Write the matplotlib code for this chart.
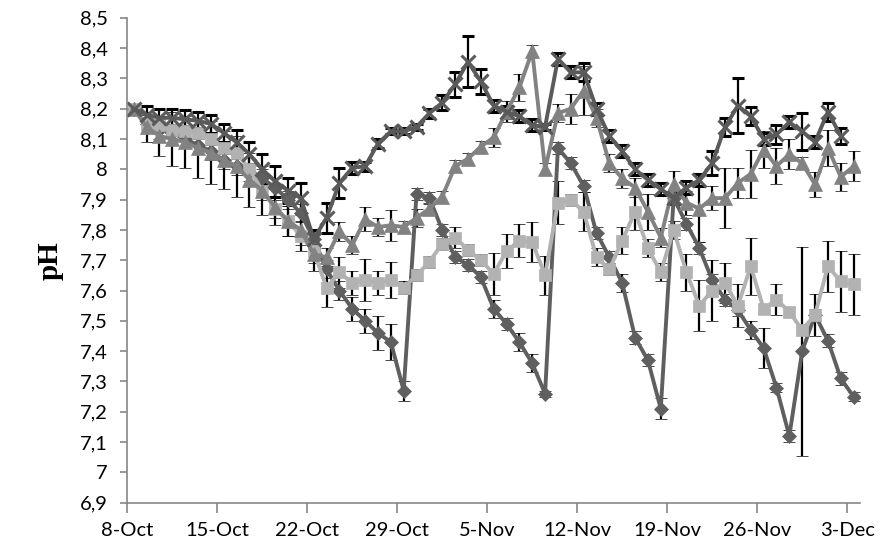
import datetime as dt
import numpy as np
import matplotlib
matplotlib.use("Agg")
import matplotlib.pyplot as plt
import matplotlib.dates as mdates
from matplotlib.ticker import FuncFormatter, MultipleLocator

# daily pH readings, 8 Oct - 3 Dec
start_date = dt.datetime(2012, 10, 8)
n_days = 57

ph_diamond = [8.20, 8.15, 8.13, 8.12, 8.10, 8.08, 8.06, 8.03, 8.01, 7.99,
              7.97, 7.94, 7.90, 7.855, 7.77, 7.67, 7.60, 7.54, 7.50, 7.46,
              7.43, 7.27, 7.92, 7.905, 7.80, 7.71, 7.685, 7.645, 7.54, 7.49,
              7.43, 7.36, 7.26, 8.07, 8.02, 7.945, 7.79, 7.71, 7.625, 7.445,
              7.37, 7.21, 7.905, 7.82, 7.74, 7.635, 7.57, 7.535, 7.47, 7.41,
              7.28, 7.12, 7.40, 7.52, 7.435, 7.31, 7.25]
err_diamond = [0, 0.03, 0.03, 0.03, 0.03, 0.03, 0.03, 0.03, 0.03, 0.03,
               0.03, 0.03, 0.03, 0.03, 0.03, 0.03, 0.03, 0.04, 0.04, 0.055,
               0.058, 0.033, 0.02, 0.02, 0.02, 0.02, 0.02, 0.02, 0.03, 0.02,
               0.03, 0.03, 0.01, 0.02, 0.02, 0.02, 0.02, 0.02, 0.03, 0.02,
               0.02, 0.035, 0.02, 0.02, 0.02, 0.02, 0.02, 0.02, 0.03, 0.065,
               0.015, 0.02, 0.345, 0.02, 0.02, 0.02, 0.015]

ph_square = [8.20, 8.15, 8.145, 8.13, 8.125, 8.12, 8.10, 8.07, 8.055, 8.00,
             7.93, 7.87, 7.83, 7.78, 7.73, 7.61, 7.66, 7.625, 7.635, 7.625,
             7.635, 7.61, 7.65, 7.695, 7.755, 7.775, 7.735, 7.70, 7.655, 7.73,
             7.765, 7.76, 7.65, 7.89, 7.90, 7.86, 7.71, 7.67, 7.765, 7.86,
             7.74, 7.66, 7.80, 7.66, 7.55, 7.60, 7.625, 7.55, 7.68, 7.54,
             7.57, 7.53, 7.47, 7.52, 7.68, 7.63, 7.62]
err_square = [0, 0.02, 0.02, 0.02, 0.02, 0.02, 0.02, 0.02, 0.02, 0.02,
              0.03, 0.03, 0.05, 0.05, 0.065, 0.065, 0.05, 0.04, 0.07, 0.04,
              0.06, 0.02, 0.02, 0.02, 0.02, 0.035, 0.02, 0.02, 0.07, 0.055,
              0.055, 0.065, 0.065, 0.07, 0.02, 0.065, 0.03, 0.02, 0.045, 0.06,
              0.03, 0.03, 0.03, 0.06, 0.085, 0.10, 0.065, 0.07, 0.095, 0.015,
              0.05, 0.015, 0.01, 0.07, 0.085, 0.10, 0.10]

ph_triangle = [8.20, 8.14, 8.11, 8.10, 8.09, 8.07, 8.055, 8.03, 8.01, 7.965,
               7.93, 7.875, 7.83, 7.80, 7.72, 7.71, 7.795, 7.75, 7.835, 7.81,
               7.815, 7.81, 7.84, 7.87, 7.91, 8.01, 8.035, 8.075, 8.105, 8.19,
               8.27, 8.39, 8.00, 8.185, 8.20, 8.26, 8.17, 8.02, 7.97, 7.94,
               7.86, 7.775, 7.95, 7.89, 7.87, 7.905, 7.905, 7.955, 7.985, 8.065,
               8.01, 8.05, 8.02, 7.95, 8.07, 7.975, 8.01]
err_triangle = [0, 0.05, 0.065, 0.09, 0.085, 0.10, 0.105, 0.095, 0.10, 0.09,
                0.08, 0.06, 0.05, 0.05, 0.03, 0.03, 0.03, 0.03, 0.04, 0.03,
                0.05, 0.02, 0.03, 0.02, 0.02, 0.02, 0.02, 0.02, 0.03, 0.035,
                0.045, 0.02, 0.02, 0.03, 0.05, 0.08, 0.03, 0.03, 0.03, 0.03,
                0.06, 0.03, 0.045, 0.04, 0.11, 0.04, 0.10, 0.05, 0.08, 0.06,
                0.06, 0.05, 0.02, 0.04, 0.06, 0.045, 0.05]

ph_cross = [8.20, 8.18, 8.17, 8.17, 8.165, 8.16, 8.15, 8.12, 8.09, 8.05,
            8.00, 7.96, 7.93, 7.905, 7.77, 7.84, 7.955, 8.005, 8.01, 8.085,
            8.125, 8.125, 8.14, 8.185, 8.22, 8.28, 8.355, 8.29, 8.21, 8.19,
            8.175, 8.145, 8.14, 8.365, 8.32, 8.32, 8.20, 8.11, 8.06, 8.00,
            7.965, 7.935, 7.905, 7.94, 7.965, 8.02, 8.14, 8.21, 8.175, 8.10,
            8.115, 8.155, 8.125, 8.09, 8.19, 8.11, np.nan]
err_cross = [0, 0.03, 0.03, 0.03, 0.03, 0.03, 0.03, 0.03, 0.04, 0.04,
             0.05, 0.05, 0.04, 0.05, 0.03, 0.05, 0.05, 0.02, 0.015, 0.015,
             0.01, 0.01, 0.01, 0.015, 0.025, 0.04, 0.085, 0.04, 0.02, 0.02,
             0.02, 0.02, 0.01, 0.02, 0.02, 0.03, 0.02, 0.02, 0.02, 0.02,
             0.02, 0.02, 0.02, 0.02, 0.02, 0.04, 0.03, 0.09, 0.03, 0.02,
             0.03, 0.02, 0.06, 0.02, 0.03, 0.025, np.nan]

# each reading sits in the middle of its day
dates = [start_date + dt.timedelta(days=i, hours=12) for i in range(n_days)]
x = mdates.date2num(dates)

series = [
    (ph_diamond, err_diamond, "D", 7.5, "#5f5f5f"),
    (ph_square, err_square, "s", 8, "#b2b2b2"),
    (ph_triangle, err_triangle, "^", 10, "#828282"),
    (ph_cross, err_cross, "x", 10, "#5a5a5a"),
]

fig = plt.figure(figsize=(8.87, 5.54), dpi=100)
ax = fig.add_axes([0.1435, 0.0926, 0.8261, 0.8753])

for values, errors, marker, size, color in series:
    ax.errorbar(x, values, yerr=errors, color=color, lw=2.8,
                marker=marker, markersize=size, markeredgewidth=2.2 if marker == "x" else 0.5,
                markeredgecolor=color, ecolor="black", elinewidth=1.6,
                capsize=4.5, capthick=1.6)

ax.set_xlim(mdates.date2num(start_date), mdates.date2num(start_date + dt.timedelta(days=n_days)))
ax.set_ylim(6.9, 8.5)

tick_dates = [start_date + dt.timedelta(days=7 * k) for k in range(9)]
ax.set_xticks(mdates.date2num(tick_dates))
ax.xaxis.set_major_formatter(FuncFormatter(
    lambda v, pos: "{0}-{1}".format(mdates.num2date(v).day, mdates.num2date(v).strftime("%b"))))
ax.yaxis.set_major_locator(MultipleLocator(0.1))
ax.yaxis.set_major_formatter(FuncFormatter(lambda v, pos: "{0:g}".format(round(v, 1)).replace(".", ",")))

for side in ["top", "right"]:
    ax.spines[side].set_visible(False)
for side in ["left", "bottom"]:
    ax.spines[side].set_color("#868686")
    ax.spines[side].set_linewidth(1.2)
ax.tick_params(axis="both", colors="#868686", labelcolor="black", labelsize=14.5, width=1.2)
ax.tick_params(axis="y", length=5, pad=9)
ax.tick_params(axis="x", length=7, pad=7)
for label in ax.get_xticklabels() + ax.get_yticklabels():
    label.set_fontfamily("Lato")

ax.set_ylabel("pH", fontsize=21, fontweight="bold", family="Liberation Serif", labelpad=12)

fig.savefig("out.png", dpi=100)
